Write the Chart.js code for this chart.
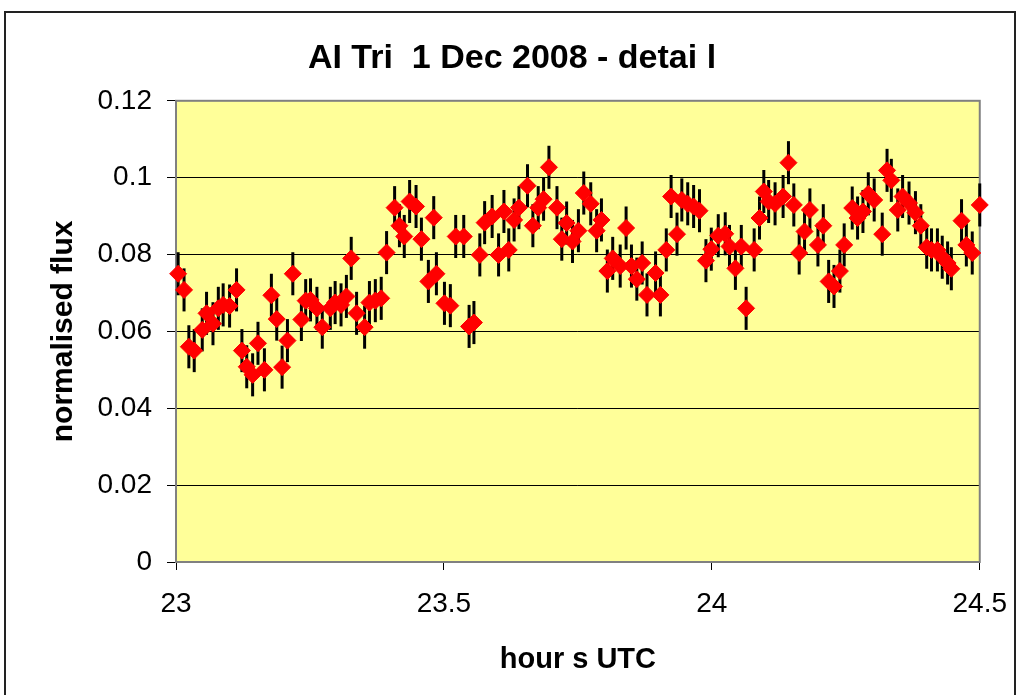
<!DOCTYPE html>
<html>
<head>
<meta charset="utf-8">
<script src="https://cdn.jsdelivr.net/npm/chart.js@4.4.0/dist/chart.umd.min.js"></script>
<style>
  html, body { margin: 0; padding: 0; background: #fff; }
  #wrap { position: relative; width: 1024px; height: 695px; overflow: hidden; }
  #frame { position: absolute; left: 4px; top: 11px; width: 1012px; height: 700px;
           border: 2px solid #222; box-sizing: border-box; pointer-events: none; }
  canvas { position: absolute; left: 0; top: 0; }
</style>
</head>
<body>
<div id="wrap">
  <div id="frame"></div>
  <canvas id="myChart" width="1024" height="695"></canvas>
</div>
<script>
// hours UTC of each measurement
const hours = [
  23.004, 23.015, 23.024, 23.034, 23.049, 23.057, 23.069, 23.079, 23.088, 23.100,
  23.113, 23.123, 23.132, 23.143, 23.153, 23.165, 23.178, 23.188, 23.198, 23.208,
  23.218, 23.234, 23.242, 23.251, 23.263, 23.273, 23.288, 23.297, 23.308, 23.318,
  23.327, 23.337, 23.352, 23.361, 23.372, 23.383, 23.393, 23.408, 23.417, 23.426,
  23.436, 23.448, 23.458, 23.471, 23.481, 23.486, 23.501, 23.512, 23.522, 23.537,
  23.547, 23.556, 23.567, 23.576, 23.590, 23.602, 23.612, 23.621, 23.631, 23.640,
  23.656, 23.666, 23.676, 23.686, 23.696, 23.711, 23.720, 23.729, 23.740, 23.751,
  23.761, 23.774, 23.785, 23.794, 23.805, 23.815, 23.829, 23.840, 23.850, 23.860,
  23.870, 23.879, 23.895, 23.904, 23.915, 23.924, 23.935, 23.944, 23.955, 23.966,
  23.977, 23.989, 23.999, 24.012, 24.025, 24.033, 24.044, 24.055, 24.064, 24.079,
  24.089, 24.097, 24.106, 24.118, 24.133, 24.143, 24.153, 24.163, 24.173, 24.183,
  24.198, 24.208, 24.218, 24.228, 24.239, 24.247, 24.262, 24.272, 24.282, 24.292,
  24.303, 24.318, 24.327, 24.335, 24.347, 24.356, 24.368, 24.380, 24.390, 24.401,
  24.410, 24.421, 24.430, 24.440, 24.447, 24.466, 24.475, 24.486, 24.500
];
// normalised flux
const flux = [
  0.0750, 0.0708, 0.0560, 0.0550, 0.0604, 0.0647, 0.0620, 0.0660, 0.0669, 0.0666,
  0.0708, 0.0550, 0.0508, 0.0487, 0.0569, 0.0500, 0.0694, 0.0632, 0.0507, 0.0576,
  0.0750, 0.0631, 0.0680, 0.0682, 0.0660, 0.0611, 0.0660, 0.0675, 0.0669, 0.0691,
  0.0790, 0.0647, 0.0611, 0.0675, 0.0680, 0.0686, 0.0805, 0.0922, 0.0875, 0.0847,
  0.0938, 0.0925, 0.0840, 0.0730, 0.0896, 0.0750, 0.0673, 0.0667, 0.0847, 0.0847,
  0.0613, 0.0623, 0.0799, 0.0883, 0.0899, 0.0799, 0.0912, 0.0812, 0.0890, 0.0922,
  0.0979, 0.0875, 0.0922, 0.0944, 0.1027, 0.0922, 0.0840, 0.0882, 0.0834, 0.0862,
  0.0960, 0.0932, 0.0862, 0.0890, 0.0757, 0.0790, 0.0770, 0.0869, 0.0770, 0.0736,
  0.0778, 0.0695, 0.0752, 0.0695, 0.0812, 0.0951, 0.0853, 0.0942, 0.0932, 0.0925,
  0.0914, 0.0784, 0.0814, 0.0849, 0.0854, 0.0821, 0.0764, 0.0821, 0.0660, 0.0812,
  0.0895, 0.0964, 0.0938, 0.0932, 0.0951, 0.1039, 0.0929, 0.0804, 0.0860, 0.0916,
  0.0825, 0.0875, 0.0730, 0.0717, 0.0757, 0.0825, 0.0921, 0.0895, 0.0912, 0.0958,
  0.0942, 0.0853, 0.1019, 0.0993, 0.0916, 0.0951, 0.0934, 0.0909, 0.0875, 0.0819,
  0.0812, 0.0812, 0.0793, 0.0778, 0.0763, 0.0888, 0.0825, 0.0804, 0.0929
];
// half length of the error bars (same for every point)
const fluxError = 0.0056;

const xTicks = [23, 23.5, 24, 24.5];
const yTicks = [0, 0.02, 0.04, 0.06, 0.08, 0.1, 0.12];

const points = hours.map((h, i) => ({ x: h, y: flux[i] }));

// yellow plot area + grey border
const plotArea = {
  id: 'plotArea',
  beforeDraw(chart) {
    const { ctx, chartArea: a } = chart;
    ctx.save();
    ctx.fillStyle = '#FFFF99';
    ctx.fillRect(a.left, a.top, a.right - a.left, a.bottom - a.top);
    ctx.restore();
  },
  beforeDatasetsDraw(chart) {
    const { ctx, chartArea: a } = chart;
    ctx.save();
    ctx.strokeStyle = '#808080';
    ctx.lineWidth = 2;
    ctx.strokeRect(a.left, a.top, a.right - a.left, a.bottom - a.top);
    ctx.restore();
  }
};

// vertical error bars
const errorBars = {
  id: 'errorBars',
  beforeDatasetsDraw(chart) {
    const { ctx, scales: { x, y } } = chart;
    ctx.save();
    ctx.strokeStyle = '#000';
    ctx.lineWidth = 3;
    points.forEach(p => {
      const px = x.getPixelForValue(p.x);
      ctx.beginPath();
      ctx.moveTo(px, y.getPixelForValue(p.y - fluxError));
      ctx.lineTo(px, y.getPixelForValue(p.y + fluxError));
      ctx.stroke();
    });
    ctx.restore();
  }
};

const fontName = "'Liberation Sans', Arial, sans-serif";
const fmt = v => String(+Number(v).toFixed(4));

const ctx = document.getElementById('myChart').getContext('2d');
const myChart = new Chart(ctx, {
  type: 'scatter',
  data: {
    datasets: [{
      label: 'flux',
      data: points,
      pointStyle: 'rectRot',
      pointRadius: 8.5,
      backgroundColor: '#FF0000',
      borderColor: '#FF0000',
      borderWidth: 1,
      clip: false
    }]
  },
  options: {
    responsive: false,
    animation: false,
    layout: { padding: { left: 0, right: 0, top: 0, bottom: 0 } },
    scales: {
      x: {
        type: 'linear',
        min: 23,
        max: 24.5,
        afterBuildTicks: s => { s.ticks = xTicks.map(v => ({ value: v })); },
        afterFit: s => { s.height = 695 - 562; },
        grid: { drawOnChartArea: false, tickLength: 8, color: '#000', tickColor: '#000' },
        border: { display: false },
        ticks: { color: '#000', padding: 17, maxRotation: 0, font: { family: fontName, size: 28 }, callback: fmt },
        title: { display: true, text: 'hour s UTC', color: '#000', padding: { top: 0, bottom: 18 },
                 font: { family: fontName, size: 29, weight: 'bold' } }
      },
      y: {
        min: 0,
        max: 0.12,
        afterBuildTicks: s => { s.ticks = yTicks.map(v => ({ value: v })); },
        afterFit: s => { s.width = 176; },
        grid: { color: '#000', lineWidth: 1, tickLength: 9, tickColor: '#000' },
        border: { display: false },
        ticks: { color: '#000', padding: 15, font: { family: fontName, size: 28 }, callback: fmt },
        title: { display: true, text: 'normalised flux', color: '#000', padding: { top: 46, bottom: 0 },
                 font: { family: fontName, size: 30, weight: 'bold' } }
      }
    },
    plugins: {
      legend: { display: false },
      tooltip: { enabled: false },
      title: {
        display: true,
        text: 'AI Tri  1 Dec 2008 - detai l',
        color: '#000',
        padding: { top: 38, bottom: 22 },
        font: { family: fontName, size: 34, weight: 'bold' }
      }
    }
  },
  plugins: [plotArea, errorBars]
});
</script>
</body>
</html>
